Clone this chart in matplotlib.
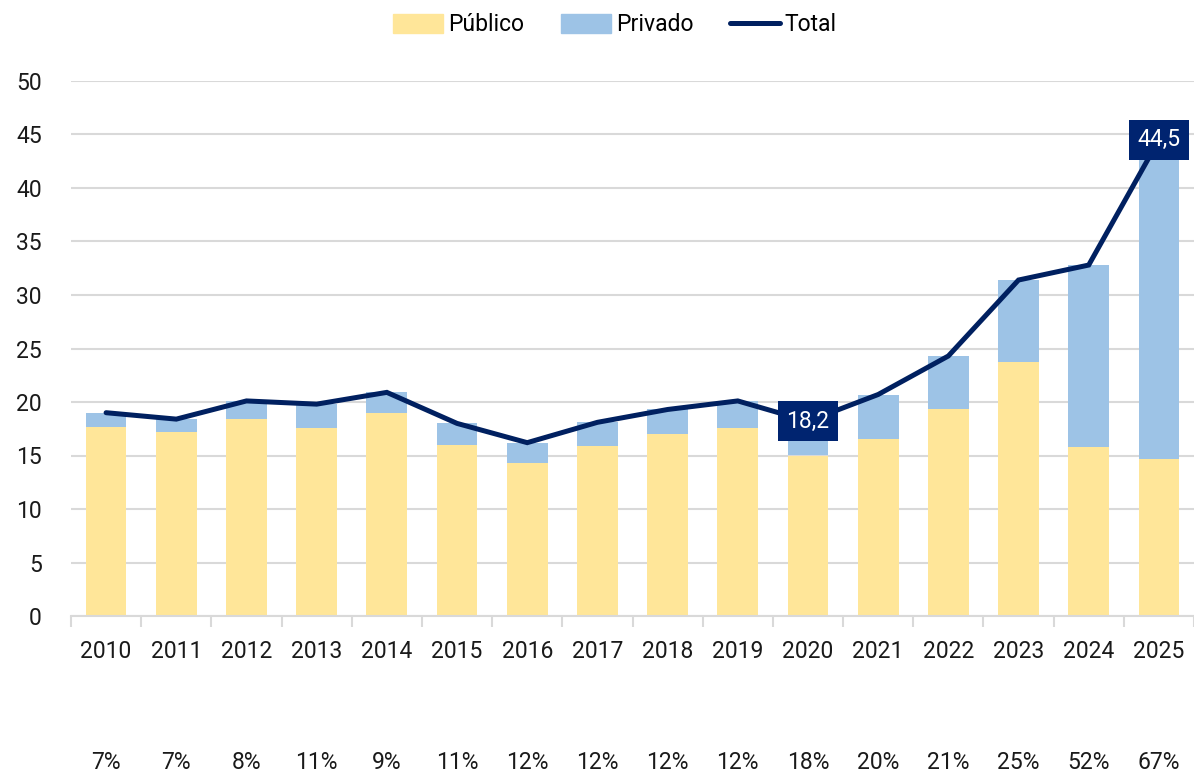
import numpy as np
import matplotlib
matplotlib.use("Agg")
import matplotlib.pyplot as plt
from matplotlib.lines import Line2D
from matplotlib.patches import Patch

plt.rcParams['font.family'] = ['Roboto', 'DejaVu Sans']

# Data
years = ['2010', '2011', '2012', '2013', '2014', '2015', '2016', '2017',
         '2018', '2019', '2020', '2021', '2022', '2023', '2024', '2025']
publico = [17.7, 17.2, 18.4, 17.6, 19.0, 16.0, 14.3, 15.9,
           17.0, 17.6, 15.0, 16.5, 19.3, 23.7, 15.8, 14.7]
total = [19.0, 18.4, 20.1, 19.8, 20.9, 18.0, 16.2, 18.1,
         19.3, 20.1, 18.2, 20.7, 24.3, 31.4, 32.8, 44.5]
share_labels = ['7%', '7%', '8%', '11%', '9%', '11%', '12%', '12%',
                '12%', '12%', '18%', '20%', '21%', '25%', '52%', '67%']
labelled = {'2020': '18,2', '2025': '44,5'}

privado = np.array(total) - np.array(publico)
x = np.arange(len(years))

c_pub = '#FFE699'
c_priv = '#9DC3E6'
c_line = '#002060'
c_box = '#002470'
c_grid = '#D9D9D9'
fs = 16.5

fig = plt.figure(figsize=(11.94, 7.73), dpi=100)
ax = fig.add_axes([71 / 1194, 1 - 616 / 773, 1 - 71 / 1194, 535 / 773])

ax.bar(x, publico, width=0.58, color=c_pub, zorder=2)
ax.bar(x, privado, width=0.58, bottom=publico, color=c_priv, zorder=2)
ax.plot(x, total, color=c_line, lw=3.6, solid_capstyle='round',
        solid_joinstyle='miter', zorder=3)

# value boxes
for i, yr in enumerate(years):
    if yr in labelled:
        ax.text(i, total[i], labelled[yr], ha='center', va='center',
                fontsize=fs, color='white', zorder=5,
                bbox=dict(boxstyle='square,pad=0.38', fc=c_box, ec='none'))

# share row under the years
for i, s in enumerate(share_labels):
    ax.text(i, -0.274, s, ha='center', va='center', fontsize=fs,
            color='#1a1a1a', transform=ax.get_xaxis_transform())

ax.set_ylim(0, 50)
ax.set_xlim(-0.5, len(years) - 0.5)
ax.set_yticks(range(0, 51, 5))
ax.yaxis.grid(True, color=c_grid, lw=1.5, zorder=0)
ax.set_axisbelow(True)
ax.tick_params(axis='y', length=0, pad=21, labelsize=fs, labelcolor='#1a1a1a')

# ticks between categories, labels at centres
ax.set_xticks(np.arange(-0.5, len(years), 1.0))
ax.set_xticklabels([])
ax.set_xticks(x, minor=True)
ax.set_xticklabels(years, minor=True)
ax.tick_params(axis='x', which='major', length=8, width=1.5, color=c_grid)
ax.tick_params(axis='x', which='minor', length=0, pad=17, labelsize=fs,
               labelcolor='#1a1a1a')

for side in ['top', 'right', 'left']:
    ax.spines[side].set_visible(False)
ax.spines['bottom'].set_color(c_grid)
ax.spines['bottom'].set_linewidth(1.5)

handles = [Patch(color=c_pub, label='Público'),
           Patch(color=c_priv, label='Privado'),
           Line2D([0], [0], color=c_line, lw=3.6, solid_capstyle='round', label='Total')]
fig.legend(handles=handles, loc='center', bbox_to_anchor=(0.515, 0.968),
           ncol=3, frameon=False, fontsize=fs, handlelength=2.2,
           handleheight=0.9, handletextpad=0.2, columnspacing=1.6)

fig.savefig('out.png', dpi=100)
